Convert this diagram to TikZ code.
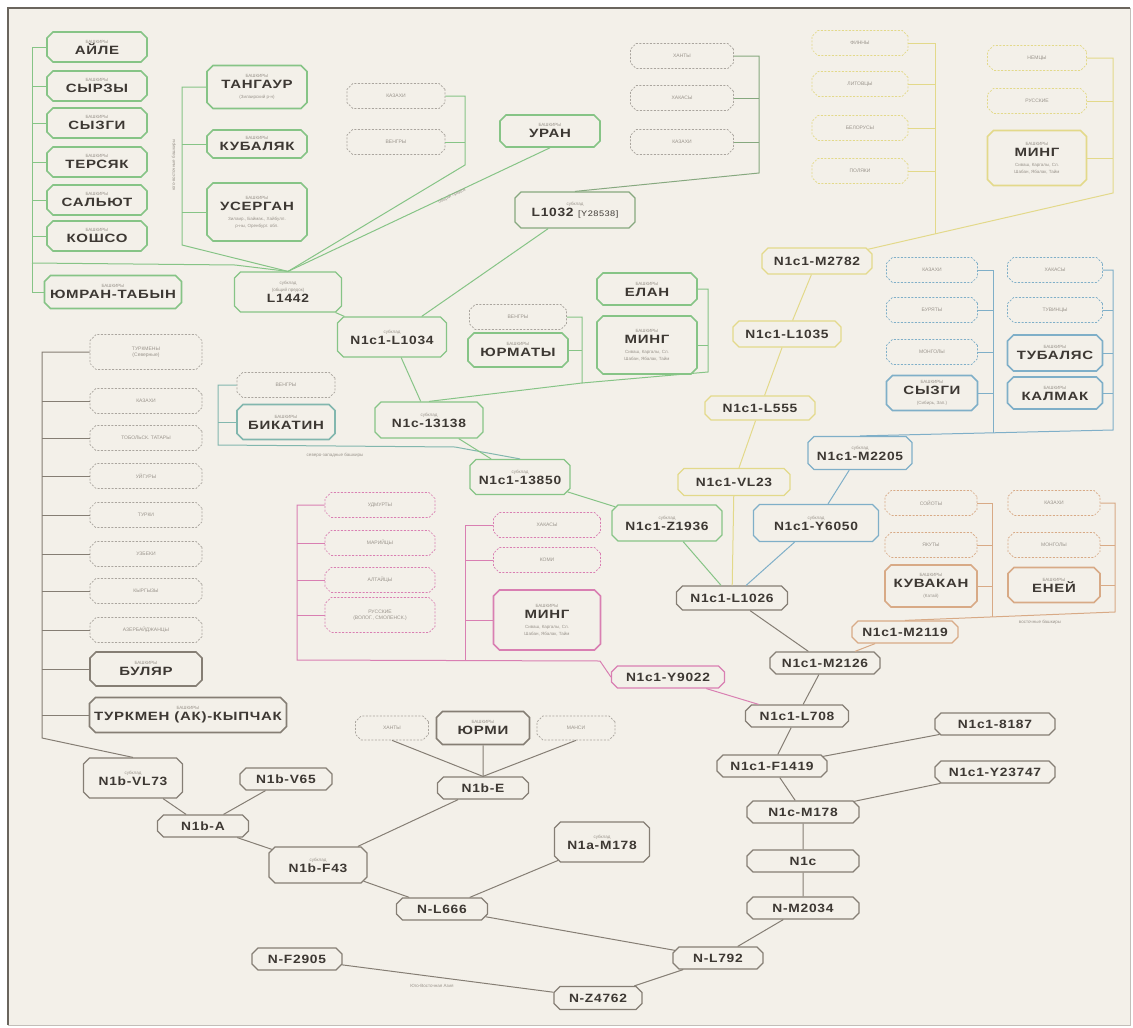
\documentclass[tikz,border=0pt]{standalone}
\usepackage{fontspec}
\setmainfont{Liberation Sans}
\newfontfamily\codefont{Liberation Sans}[LetterSpace=6, FakeStretch=1.15]
\newfontfamily\namefont{Liberation Sans}[LetterSpace=6, FakeStretch=1.25]
\usetikzlibrary{shapes.misc}

\definecolor{paper}{HTML}{F3F0E9}
\definecolor{ink}{HTML}{3D3833}
\definecolor{inklt}{HTML}{9A948C}
\definecolor{gryl}{HTML}{857E74}
\definecolor{grnl}{HTML}{86C486}
\definecolor{ylwl}{HTML}{E3D98A}
\definecolor{blul}{HTML}{7FAFC8}
\definecolor{ornl}{HTML}{D8AA86}
\definecolor{pnkl}{HTML}{D97FB2}

\newcommand{\fine}[1]{{\normalfont\fontsize{4.5}{5.5}\selectfont\color{inklt}#1}}
\newcommand{\bashk}{\fine{БАШКИРЫ}\\[-1pt]}

\tikzset{
  tag/.style={chamfered rectangle, chamfered rectangle xsep=3pt, chamfered rectangle ysep=3pt,
    draw, fill=paper, align=center, inner sep=1pt, text=ink},
  code/.style={tag, draw=#1, line width=1.2pt, minimum height=22,
    font=\codefont\bfseries\fontsize{12}{12}\selectfont},
  code/.default=gryl,
  bash/.style={tag, draw=#1, line width=1.6pt, minimum width=100, minimum height=30,
    font=\namefont\bfseries\fontsize{12}{12}\selectfont},
  folk/.style={tag, draw=#1, dash pattern=on 2pt off 1.5pt, line width=0.7pt,
    minimum width=100, minimum height=25, font=\fontsize{5}{6}\selectfont, text=inklt},
  folk/.default=gryl!70,
  link/.style={draw=#1, line width=1pt},
  link/.default=gryl,
  note/.style={font=\fontsize{4.5}{5}\selectfont, text=inklt, inner sep=0pt},
}

\begin{document}
\begin{tikzpicture}[x=1pt,y=-1pt]
  \fill[white] (0,0) rectangle (1133,1028);
  \fill[paper] (8,8) rectangle (1130,1025);
  \useasboundingbox (0,0) rectangle (1133,1028);
  \draw[gryl!80!black, line width=2pt] (8,1025) -- (8,8) -- (1130,8);
  \draw[gryl!50, line width=1pt] (1130,8) -- (1130,1025) -- (8,1025);

  % green: L1442 / L1032 branch
  \node[bash=grnl] (ayle) at (97,47) {\bashk АЙЛЕ};
  \node[bash=grnl] (syrzy) at (97,86) {\bashk СЫРЗЫ};
  \node[bash=grnl] (syzgi) at (97,123) {\bashk СЫЗГИ};
  \node[bash=grnl] (tersyak) at (97,162) {\bashk ТЕРСЯК};
  \node[bash=grnl] (salyut) at (97,200) {\bashk САЛЬЮТ};
  \node[bash=grnl] (koshso) at (97,236) {\bashk КОШСО};
  \node[bash=grnl, minimum width=137, minimum height=33] (yumran) at (113,292) {\bashk ЮМРАН-ТАБЫН};
  \node[bash=grnl, minimum height=43] (tangaur) at (257,87) {\bashk ТАНГАУР\\[-2pt]\fine{(Зилаирский р-н)}};
  \node[bash=grnl, minimum height=28] (kubalyak) at (257,144) {\bashk КУБАЛЯК};
  \node[bash=grnl, minimum height=58] (usergan) at (257,212) {\bashk УСЕРГАН\\[-2pt]\fine{Зилаир., Баймак., Хайбулл.}\\[-5pt]\fine{р-ны, Оренбург. обл.}};
  \node[folk, minimum width=98] (kazA) at (396,96) {КАЗАХИ};
  \node[folk, minimum width=98] (vengA) at (396,142) {ВЕНГРЫ};
  \node[bash=grnl, minimum height=32] (uran) at (550,131) {\bashk УРАН};
  \node[code=grnl, minimum width=107, minimum height=40] (l1442) at (288,292) {\fine{субклад}\\[-5pt]\fine{(общий предок)}\\[-1pt]L1442};
  \node[folk, minimum width=103] (hantyA) at (682,56) {ХАНТЫ};
  \node[folk, minimum width=103] (hakasA) at (682,98) {ХАКАСЫ};
  \node[folk, minimum width=103] (kazB) at (682,142) {КАЗАХИ};
  \node[code=grnl!60!gryl, minimum width=120, minimum height=36] (l1032) at (575,210) {\fine{субклад}\\[-1pt]L1032 {\mdseries\fontsize{8}{8}\selectfont [Y28538]}};
  \node[code=grnl, minimum width=109, minimum height=40] (l1034) at (392,337) {\fine{субклад}\\[-1pt]N1c1-L1034};
  \node[folk, minimum width=97] (vengB) at (518,317) {ВЕНГРЫ};
  \node[bash=grnl, minimum height=34] (yurmaty) at (518,350) {\bashk ЮРМАТЫ};
  \node[bash=grnl, minimum height=32] (elan) at (647,289) {\bashk ЕЛАН};
  \node[bash=grnl, minimum height=58] (mingA) at (647,345) {\bashk МИНГ\\[-2pt]\fine{Сиваш, Каргалы, Сл.}\\[-5pt]\fine{Шабан, Ябалак, Тайм}};
  \node[code=grnl, minimum width=108, minimum height=36] (n13138) at (429,420) {\fine{субклад}\\[-1pt]N1c-13138};
  \node[folk, minimum width=98] (vengC) at (286,385) {ВЕНГРЫ};
  \node[bash=blul!60!grnl, minimum width=98, minimum height=35] (bikatin) at (286,422) {\bashk БИКАТИН};
  \node[code=grnl, minimum width=100, minimum height=35] (n13850) at (520,477) {\fine{субклад}\\[-1pt]N1c1-13850};
  \node[code=grnl, minimum width=110, minimum height=36] (z1936) at (667,523) {\fine{субклад}\\[-1pt]N1c1-Z1936};

  % yellow: M2782 branch
  \node[folk=ylwl, minimum width=96] (finny) at (860,43) {ФИННЫ};
  \node[folk=ylwl, minimum width=96] (litovcy) at (860,84) {ЛИТОВЦЫ};
  \node[folk=ylwl, minimum width=96] (belorusy) at (860,128) {БЕЛОРУСЫ};
  \node[folk=ylwl, minimum width=96] (polyaki) at (860,171) {ПОЛЯКИ};
  \node[folk=ylwl, minimum width=99] (nemcy) at (1037,58) {НЕМЦЫ};
  \node[folk=ylwl, minimum width=99] (russkie) at (1037,101) {РУССКИЕ};
  \node[bash=ylwl, minimum width=99, minimum height=55] (mingB) at (1037,158) {\bashk МИНГ\\[-2pt]\fine{Сиваш, Каргалы, Сл.}\\[-5pt]\fine{Шабан, Ябалак, Тайм}};
  \node[code=ylwl, minimum width=110, minimum height=26] (m2782) at (817,261) {N1c1-M2782};
  \node[code=ylwl, minimum width=108, minimum height=26] (l1035) at (787,334) {N1c1-L1035};
  \node[code=ylwl, minimum width=110, minimum height=24] (l555) at (760,408) {N1c1-L555};
  \node[code=ylwl, minimum width=112, minimum height=27] (vl23) at (734,482) {N1c1-VL23};
  \node[code, minimum width=111, minimum height=24] (l1026) at (732,598) {N1c1-L1026};

  % blue: M2205 branch
  \node[folk=blul, minimum width=91] (kazC) at (932,270) {КАЗАХИ};
  \node[folk=blul, minimum width=91] (buryaty) at (932,310) {БУРЯТЫ};
  \node[folk=blul, minimum width=91] (mongolA) at (932,352) {МОНГОЛЫ};
  \node[bash=blul, minimum width=91, minimum height=35] (syzgiB) at (932,393) {\bashk СЫЗГИ\\[-2pt]\fine{(Сибирь, Зап.)}};
  \node[folk=blul, minimum width=95] (hakasB) at (1055,270) {ХАКАСЫ};
  \node[folk=blul, minimum width=95] (tuvincy) at (1055,310) {ТУВИНЦЫ};
  \node[bash=blul, minimum width=95, minimum height=36] (tubalyas) at (1055,353) {\bashk ТУБАЛЯС};
  \node[bash=blul, minimum width=95, minimum height=32] (kalmak) at (1055,393) {\bashk КАЛМАК};
  \node[code=blul, minimum width=104, minimum height=33] (m2205) at (860,453) {\fine{субклад}\\[-1pt]N1c1-M2205};
  \node[code=blul, minimum width=125, minimum height=37] (y6050) at (816,523) {\fine{субклад}\\[-1pt]N1c1-Y6050};

  % orange: M2119 branch
  \node[folk=ornl, minimum width=92] (soyoty) at (931,503) {СОЙОТЫ};
  \node[folk=ornl, minimum width=92] (yakuty) at (931,545) {ЯКУТЫ};
  \node[bash=ornl, minimum width=92, minimum height=42] (kuvakan) at (931,586) {\bashk КУВАКАН\\[-2pt]\fine{(Катай)}};
  \node[folk=ornl, minimum width=92] (kazD) at (1054,503) {КАЗАХИ};
  \node[folk=ornl, minimum width=92] (mongolB) at (1054,545) {МОНГОЛЫ};
  \node[bash=ornl, minimum width=92, minimum height=35] (eney) at (1054,585) {\bashk ЕНЕЙ};
  \node[code=ornl, minimum width=106] (m2119) at (905,632) {N1c1-M2119};
  \node[code, minimum width=110] (m2126) at (825,663) {N1c1-M2126};

  % pink: Y9022 branch
  \node[folk=pnkl, minimum width=110] (udmurty) at (380,505) {УДМУРТЫ};
  \node[folk=pnkl, minimum width=110] (mariycy) at (380,543) {МАРИЙЦЫ};
  \node[folk=pnkl, minimum width=110] (altaycy) at (380,580) {АЛТАЙЦЫ};
  \node[folk=pnkl, minimum width=110, minimum height=35] (russkieB) at (380,615) {РУССКИЕ\\(ВОЛОГ., СМОЛЕНСК.)};
  \node[folk=pnkl, minimum width=107] (hakasC) at (547,525) {ХАКАСЫ};
  \node[folk=pnkl, minimum width=107] (komi) at (547,560) {КОМИ};
  \node[bash=pnkl, minimum width=107, minimum height=60] (mingC) at (547,620) {\bashk МИНГ\\[-2pt]\fine{Сиваш, Каргалы, Сл.}\\[-5pt]\fine{Шабан, Ябалак, Тайм}};
  \node[code=pnkl, minimum width=113] (y9022) at (668,677) {N1c1-Y9022};

  % grey trunk
  \node[code, minimum width=103] (l708) at (797,716) {N1c1-L708};
  \node[code, minimum width=110] (f1419) at (772,766) {N1c1-F1419};
  \node[code, minimum width=120] (s8187) at (995,724) {N1c1-8187};
  \node[code, minimum width=120] (y23747) at (995,772) {N1c1-Y23747};
  \node[code, minimum width=112] (nm178) at (803,812) {N1c-M178};
  \node[code, minimum width=112] (n1c) at (803,861) {N1c};
  \node[code, minimum width=112] (m2034) at (803,908) {N-M2034};
  \node[code, minimum width=90] (l792) at (718,958) {N-L792};
  \node[code, minimum width=88, minimum height=23] (z4762) at (598,998) {N-Z4762};
  \node[code, minimum width=90] (f2905) at (297,959) {N-F2905};
  \node[code, minimum width=91] (l666) at (442,909) {N-L666};
  \node[code, minimum width=98, minimum height=36] (f43) at (318,865) {\fine{субклад}\\[-1pt]N1b-F43};
  \node[code, minimum width=95, minimum height=40] (n1am178) at (602,842) {\fine{субклад}\\[-1pt]N1a-M178};
  \node[code, minimum width=91] (n1be) at (483,788) {N1b-E};
  \node[bash=gryl, minimum width=93, minimum height=33] (yurmi) at (483,728) {\bashk ЮРМИ};
  \node[folk, minimum width=73, minimum height=24] (hantyB) at (392,728) {ХАНТЫ};
  \node[folk, minimum width=78, minimum height=24] (mansi) at (576,728) {МАНСИ};
  \node[code, minimum width=92] (v65) at (286,779) {N1b-V65};
  \node[code, minimum width=99, minimum height=40] (vl73) at (133,778) {\fine{субклад}\\[-1pt]N1b-VL73};
  \node[code, minimum width=91] (n1ba) at (203,826) {N1b-A};
  \node[folk, minimum width=112, minimum height=35] (turkmeny) at (146,352) {ТУРКМЕНЫ\\(Северные)};
  \node[folk, minimum width=112] (kazE) at (146,401) {КАЗАХИ};
  \node[folk, minimum width=112] (tobtat) at (146,438) {ТОБОЛЬСК. ТАТАРЫ};
  \node[folk, minimum width=112] (uygury) at (146,476) {УЙГУРЫ};
  \node[folk, minimum width=112] (turki) at (146,515) {ТУРКИ};
  \node[folk, minimum width=112] (uzbeki) at (146,554) {УЗБЕКИ};
  \node[folk, minimum width=112] (kyrgyzy) at (146,591) {КЫРГЫЗЫ};
  \node[folk, minimum width=112] (azerb) at (146,630) {АЗЕРБАЙДЖАНЦЫ};
  \node[bash=gryl, minimum width=112, minimum height=34] (bulyar) at (146,669) {\bashk БУЛЯР};
  \node[bash=gryl, minimum width=197, minimum height=35] (turkmenak) at (188,715) {\bashk ТУРКМЕН (АК)-КЫПЧАК};

  % spines
  \coordinate (spA) at (32,0);
  \coordinate (spB) at (182,0);
  \coordinate (spC) at (465,0);
  \coordinate (spD) at (759,0);
  \coordinate (spE) at (582,0);
  \coordinate (spF) at (708,0);
  \coordinate (spG) at (935,0);
  \coordinate (spH) at (1113,0);
  \coordinate (spI) at (993,0);
  \coordinate (spJ) at (1115,0);
  \coordinate (spK) at (297,0);
  \coordinate (spL) at (42,0);

  % green links
  \draw[link=grnl] (ayle.west) -| (32,292) -- (yumran.west);
  \foreach \n in {syrzy,syzgi,tersyak,salyut,koshso} \draw[link=grnl] (\n.west) -- (\n.west -| spA);
  \draw[link=grnl] (32,263) -- (235,265) -- (l1442.north);
  \draw[link=grnl] (tangaur.west) -| (182,245) -- (l1442.north);
  \foreach \n in {kubalyak,usergan} \draw[link=grnl] (\n.west) -- (\n.west -| spB);
  \draw[link=grnl] (kazA.east) -| (465,165) -- (l1442.north);
  \draw[link=grnl] (vengA.east) -- (vengA.east -| spC);
  \draw[link=grnl] (uran.south) -- (l1442.north);
  \draw[link=grnl!60!gryl] (hantyA.east) -| (759,173) -- (l1032.north);
  \foreach \n in {hakasA,kazB} \draw[link=grnl!60!gryl] (\n.east) -- (\n.east -| spD);
  \draw[link=grnl] (l1032) -- (l1034);
  \draw[link=grnl] (l1442) -- (l1034);
  \draw[link=grnl] (vengB.east) -| (582,383) -- (n13138.north);
  \draw[link=grnl] (yurmaty.east) -- (yurmaty.east -| spE);
  \draw[link=grnl] (elan.east) -| (708,372) -- (582,383);
  \draw[link=grnl] (mingA.east) -- (mingA.east -| spF);
  \draw[link=grnl] (l1034) -- (n13138);
  \draw[link=blul!60!grnl] (vengC.west) -| (218,445) -- (455,447) -- (n13850.north);
  \draw[link=blul!60!grnl] (bikatin.west) -- (218,422);
  \draw[link=grnl] (n13138) -- (n13850);
  \draw[link=grnl] (n13850) -- (z1936);
  \draw[link=grnl] (z1936) -- (l1026);

  % yellow links
  \draw[link=ylwl] (finny.east) -| (935,234);
  \foreach \n in {litovcy,belorusy,polyaki} \draw[link=ylwl] (\n.east) -- (\n.east -| spG);
  \draw[link=ylwl] (nemcy.east) -| (1113,193) -- (m2782);
  \foreach \n in {russkie,mingB} \draw[link=ylwl] (\n.east) -- (\n.east -| spH);
  \draw[link=ylwl] (m2782) -- (l1035);
  \draw[link=ylwl] (l1035) -- (l555);
  \draw[link=ylwl] (l555) -- (vl23);
  \draw[link=ylwl] (vl23) -- (l1026);

  % blue links
  \draw[link=blul] (kazC.east) -| (993,433);
  \foreach \n in {buryaty,mongolA,syzgiB} \draw[link=blul] (\n.east) -- (\n.east -| spI);
  \draw[link=blul] (hakasB.east) -| (1113,430) -- (m2205.north);
  \foreach \n in {tuvincy,tubalyas,kalmak} \draw[link=blul] (\n.east) -- (\n.east -| spH);
  \draw[link=blul] (m2205) -- (y6050);
  \draw[link=blul] (y6050) -- (l1026);

  % orange links
  \draw[link=ornl] (soyoty.east) -| (992,617);
  \foreach \n in {yakuty,kuvakan} \draw[link=ornl] (\n.east) -- (\n.east -| spI);
  \draw[link=ornl] (kazD.east) -| (1115,612) -- (m2119.north);
  \foreach \n in {mongolB,eney} \draw[link=ornl] (\n.east) -- (\n.east -| spJ);
  \draw[link=ornl] (m2119) -- (m2126);
  \draw[link] (l1026) -- (m2126);

  % pink links
  \draw[link=pnkl] (udmurty.west) -| (297,660) -- (600,661) -- (y9022.west);
  \foreach \n in {mariycy,altaycy,russkieB} \draw[link=pnkl] (\n.west) -- (\n.west -| spK);
  \draw[link=pnkl] (hakasC.west) -| (465,660);
  \foreach \n in {komi,mingC} \draw[link=pnkl] (\n.west) -- (\n.west -| spC);
  \draw[link=pnkl] (y9022) -- (l708);

  % grey links
  \draw[link] (m2126) -- (l708);
  \draw[link] (l708) -- (f1419);
  \draw[link] (s8187) -- (f1419);
  \draw[link] (f1419) -- (nm178);
  \draw[link] (y23747) -- (nm178);
  \draw[link] (nm178) -- (n1c);
  \draw[link] (n1c) -- (m2034);
  \draw[link] (m2034) -- (l792);
  \draw[link] (l666) -- (l792);
  \draw[link] (l792) -- (z4762);
  \draw[link] (f2905) -- (z4762);
  \draw[link] (n1am178) -- (l666);
  \draw[link] (f43) -- (l666);
  \draw[link] (n1be) -- (f43);
  \draw[link] (n1ba) -- (f43);
  \draw[link] (vl73) -- (n1ba);
  \draw[link] (v65) -- (n1ba);
  \draw[link] (hantyB.south) -- (n1be.north);
  \draw[link] (yurmi) -- (n1be);
  \draw[link] (mansi.south) -- (n1be.north);
  \draw[link] (turkmeny.west) -| (42,738) -- (vl73.north);
  \foreach \n in {kazE,tobtat,uygury,turki,uzbeki,kyrgyzy,azerb,bulyar,turkmenak} \draw[link] (\n.west) -- (\n.west -| spL);

  % small notes
  \node[note, rotate=90] (noteA) at (174,165) {юго-восточные башкиры};
  \node[note, rotate=25] (noteB) at (452,196) {общий предок};
  \node[note] (noteC) at (335,455) {северо-западные башкиры};
  \node[note] (noteD) at (1040,622) {восточные башкиры};
  \node[note] (noteE) at (432,986) {Юго-Восточная Азия};
\end{tikzpicture}
\end{document}
